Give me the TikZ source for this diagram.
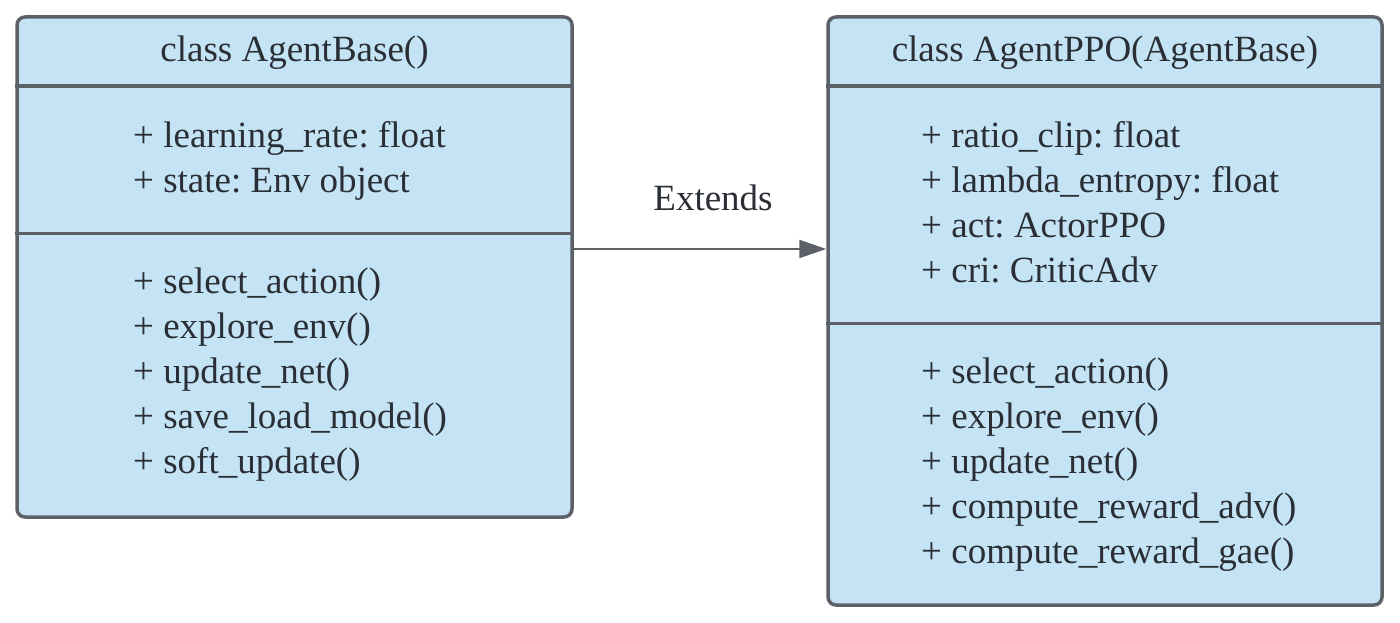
\documentclass[tikz,border=0pt]{standalone}
\usepackage{fontspec}
\setmainfont{Liberation Serif}
\usetikzlibrary{arrows.meta}
\definecolor{boxfill}{HTML}{C4E4F5}
\definecolor{boxline}{HTML}{5B6166}
\definecolor{txt}{HTML}{2A2E35}
\frenchspacing
\begin{document}
\begin{tikzpicture}[x=1pt,y=1pt,
  classbox/.style={draw=boxline, line width=3.5pt, fill=boxfill, rounded corners=8pt, inner sep=0pt},
  divider/.style={draw=boxline, line width=3.5pt},
  lbl/.style={font=\fontsize{37}{45}\selectfont, text=txt, inner sep=0pt, anchor=base west},
  ttl/.style={font=\fontsize{37}{45}\selectfont, text=txt, inner sep=0pt, anchor=base},
  ext/.style={draw=boxline, line width=2pt, -{Triangle[length=27pt,width=18pt]}}]
\useasboundingbox (0,0) rectangle (1400,-623);
% boxes
\node[classbox, minimum width=555pt, minimum height=500pt] (base) at (294.5,-267) {};
\node[classbox, minimum width=554pt, minimum height=588pt] (ppo) at (1105,-311) {};
% dividers
\draw[divider] ([yshift=-71pt]base.north west) -- ([yshift=-71pt]base.north east);
\draw[divider] ([yshift=-218pt]base.north west) -- ([yshift=-218pt]base.north east);
\draw[divider] ([yshift=-71pt]ppo.north west) -- ([yshift=-71pt]ppo.north east);
\draw[divider] ([yshift=-308pt]ppo.north west) -- ([yshift=-308pt]ppo.north east);
% titles
\node[ttl] (bt) at (294.5,-62) {class AgentBase()};
\node[ttl] (pt) at (1105,-62) {class AgentPPO(AgentBase)};
% AgentBase members
\node[lbl] (ba1) at (133,-147) {+ learning\_rate: float};
\node[lbl] (ba2) at (133,-192) {+ state: Env object};
\node[lbl] (bm1) at (133,-293) {+ select\_action()};
\node[lbl] (bm2) at (133,-338) {+ explore\_env()};
\node[lbl] (bm3) at (133,-383) {+ update\_net()};
\node[lbl] (bm4) at (133,-428) {+ save\_load\_model()};
\node[lbl] (bm5) at (133,-473) {+ soft\_update()};
% AgentPPO members
\node[lbl] (pa1) at (921,-147) {+ ratio\_clip: float};
\node[lbl] (pa2) at (921,-192) {+ lambda\_entropy: float};
\node[lbl] (pa3) at (921,-237) {+ act: ActorPPO};
\node[lbl] (pa4) at (921,-282) {+ cri: CriticAdv};
\node[lbl] (pm1) at (921,-383) {+ select\_action()};
\node[lbl] (pm2) at (921,-428) {+ explore\_env()};
\node[lbl] (pm3) at (921,-473) {+ update\_net()};
\node[lbl] (pm4) at (921,-518) {+ compute\_reward\_adv()};
\node[lbl] (pm5) at (921,-563) {+ compute\_reward\_gae()};
% connector
\coordinate (as) at ([yshift=18pt]base.east);
\draw[ext] (as) -- (as -| ppo.west);
\node[ttl] (extl) at (713,-210) {Extends};
\end{tikzpicture}
\end{document}
